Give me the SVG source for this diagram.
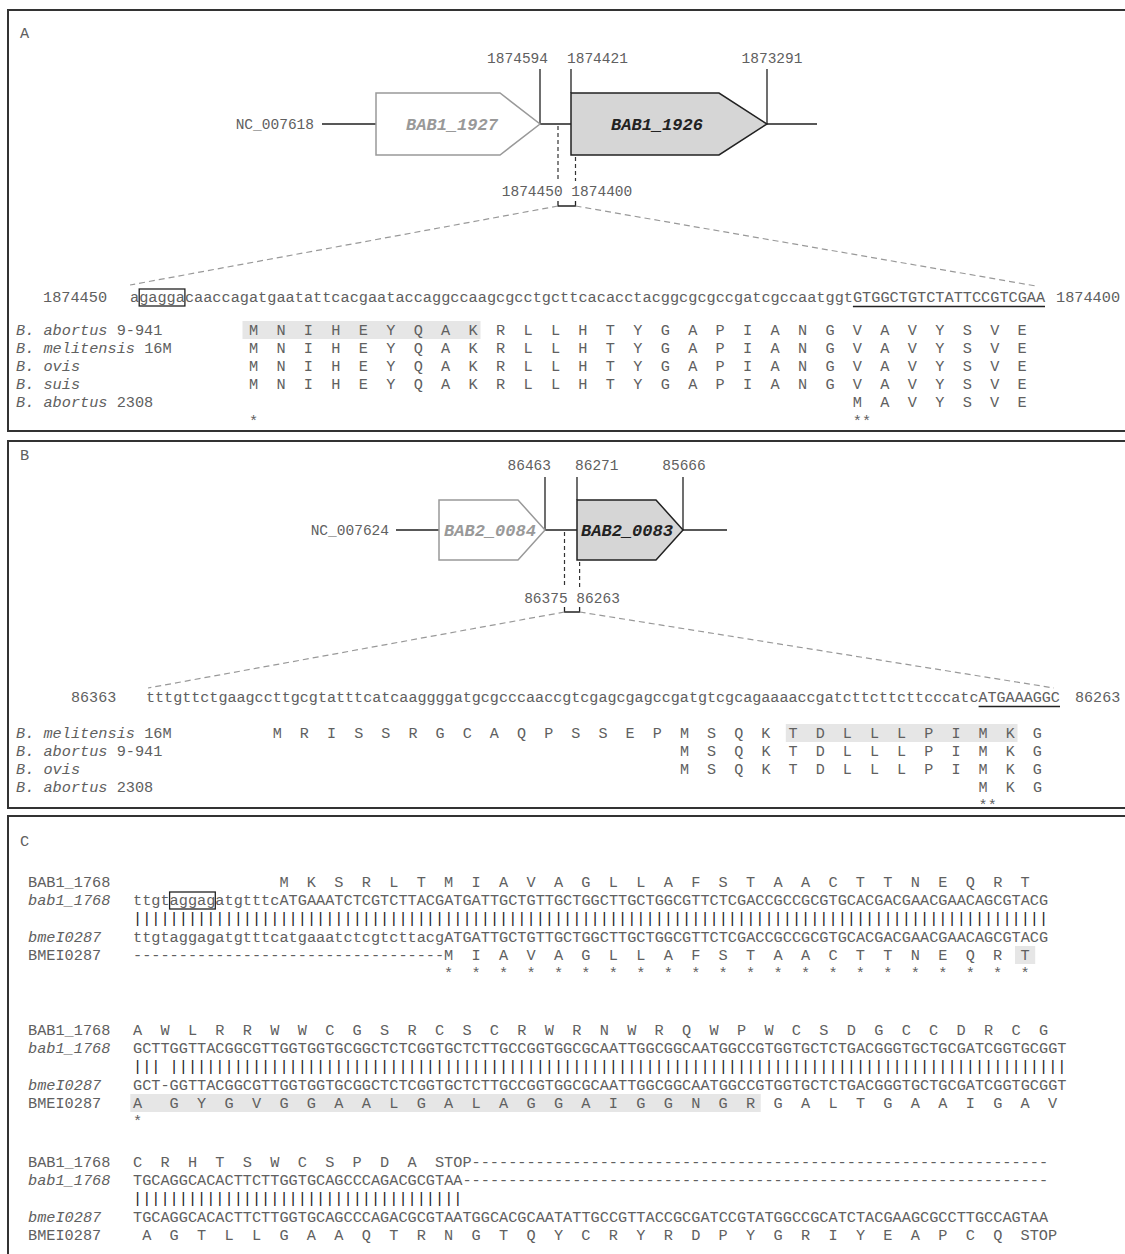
<svg xmlns="http://www.w3.org/2000/svg" width="1125" height="1254" viewBox="0 0 1125 1254">
<style>
.t{font-family:"Liberation Mono","Courier New",monospace;font-size:15.25px;fill:#606060}
.b{font-size:15.08px}
.s{font-size:14.5px}
.aa{letter-spacing:18.3px}
.ab{letter-spacing:18.1px}
.it{font-style:italic}
.bar{fill:#222}
.g{font-family:"Liberation Mono","Courier New",monospace;font-size:17px;font-weight:bold;font-style:italic;text-anchor:middle}
.ln{stroke:#222;stroke-width:1.3;fill:none}
.dv{stroke:#333;stroke-width:1.2;stroke-dasharray:4 3;fill:none}
.fan{stroke:#999;stroke-width:1.2;stroke-dasharray:6 4;fill:none}
.panel{fill:none;stroke:#333;stroke-width:2}
.shade{fill:#e6e6e6}
</style>
<rect width="1125" height="1254" fill="#fff"/>
<g id="panels">
<rect class="panel" x="8" y="10" width="1130" height="421"/>
<rect class="panel" x="8" y="441" width="1130" height="367"/>
<rect class="panel" x="8" y="816" width="1130" height="450"/>
</g>
<g id="shading">
<rect class="shade" x="242.5" y="321" width="238" height="18"/>
<rect class="shade" x="785.8" y="724" width="231.7" height="18"/>
<rect class="shade" x="1015" y="946" width="20.2" height="18"/>
<rect class="shade" x="130.3" y="1094" width="630.4" height="18"/>
</g>
<g id="connectors">
<path class="ln" d="M322 124H376M540 124H571M767 124H817"/>
<path class="ln" d="M540 69V124M571 69V93M767 69V124"/>
<path class="dv" d="M558 126V181M575.5 157V181"/>
<path class="ln" d="M558 201V206H575.5V201"/>
<path class="fan" d="M558 206L130 285M575.5 206L1036 286"/>
<path class="ln" d="M396 530H439M545 530H577M683 530H727"/>
<path class="ln" d="M545 477V530M577 477V500M683 477V530"/>
<path class="dv" d="M564.5 532V588M579.6 562V588"/>
<path class="ln" d="M564.5 607V612H579.6V607"/>
<path class="fan" d="M564.5 612L148 688M579.6 612L1054 688"/>
<path class="ln" d="M852.9 306.5H1045M978.6 706.5H1060"/>
<rect class="ln" x="139.2" y="289" width="45.7" height="17" stroke="#444"/>
<rect class="ln" x="169.6" y="892" width="45.7" height="17" stroke="#444"/>
</g>
<g id="node-BAB1_1927">
<path d="M376 93H500L540 124L500 155H376Z" fill="#fff" stroke="#999" stroke-width="1.5"/>
<text class="g" x="452" y="130" fill="#999">BAB1_1927</text>
</g>
<g id="node-BAB1_1926">
<path d="M571 93H719L767 124L719 155H571Z" fill="#d6d6d6" stroke="#222" stroke-width="1.5"/>
<text class="g" x="657" y="130" fill="#222">BAB1_1926</text>
</g>
<g id="node-BAB2_0084">
<path d="M439 500H518L545 530L518 560H439Z" fill="#fff" stroke="#999" stroke-width="1.5"/>
<text class="g" x="490" y="536" fill="#999">BAB2_0084</text>
</g>
<g id="node-BAB2_0083">
<path d="M577 500H656L683 530L656 560H577Z" fill="#d6d6d6" stroke="#222" stroke-width="1.5"/>
<text class="g" x="627" y="536" fill="#222">BAB2_0083</text>
</g>
<g id="panel-A-text">
<text class="t" x="20" y="38">A</text>
<text class="t s" x="548" y="63" text-anchor="end">1874594</text>
<text class="t s" x="567" y="63">1874421</text>
<text class="t s" x="772" y="63" text-anchor="middle">1873291</text>
<text class="t s" x="314" y="129" text-anchor="end">NC_007618</text>
<text class="t s" x="567" y="196" text-anchor="middle">1874450 1874400</text>
<text class="t" x="43" y="302">1874450</text>
<text class="t" x="130" y="302">agaggacaaccagatgaatattcacgaataccaggccaagcgcctgcttcacacctacggcgcgccgatcgccaatggtGTGGCTGTCTATTCCGTCGAA</text>
<text class="t" x="1056" y="302">1874400</text>
<text class="t" x="16" y="335"><tspan class="it">B. abortus</tspan> 9-941</text>
<text class="t" x="16" y="353"><tspan class="it">B. melitensis</tspan> 16M</text>
<text class="t" x="16" y="371"><tspan class="it">B. ovis</tspan></text>
<text class="t" x="16" y="389"><tspan class="it">B. suis</tspan></text>
<text class="t" x="16" y="407"><tspan class="it">B. abortus</tspan> 2308</text>
<text class="t aa" x="248.95" y="335">MNIHEYQAKRLLHTYGAPIANGVAVYSVE</text>
<text class="t aa" x="248.95" y="353">MNIHEYQAKRLLHTYGAPIANGVAVYSVE</text>
<text class="t aa" x="248.95" y="371">MNIHEYQAKRLLHTYGAPIANGVAVYSVE</text>
<text class="t aa" x="248.95" y="389">MNIHEYQAKRLLHTYGAPIANGVAVYSVE</text>
<text class="t aa" x="852.85" y="407">MAVYSVE</text>
<text class="t" x="248.95" y="426">*</text>
<text class="t" x="852.85" y="426">**</text>
</g>
<g id="panel-B-text">
<text class="t" x="20" y="460">B</text>
<text class="t s" x="551" y="470" text-anchor="end">86463</text>
<text class="t s" x="575" y="470">86271</text>
<text class="t s" x="684" y="470" text-anchor="middle">85666</text>
<text class="t s" x="389" y="535" text-anchor="end">NC_007624</text>
<text class="t s" x="572" y="603" text-anchor="middle">86375 86263</text>
<text class="t b" x="71" y="702">86363</text>
<text class="t b" x="146" y="702">tttgttctgaagccttgcgtatttcatcaaggggatgcgcccaaccgtcgagcgagccgatgtcgcagaaaaccgatcttcttcttcccatcATGAAAGGC</text>
<text class="t b" x="1075" y="702">86263</text>
<text class="t" x="16" y="738"><tspan class="it">B. melitensis</tspan> 16M</text>
<text class="t" x="16" y="756"><tspan class="it">B. abortus</tspan> 9-941</text>
<text class="t" x="16" y="774"><tspan class="it">B. ovis</tspan></text>
<text class="t" x="16" y="792"><tspan class="it">B. abortus</tspan> 2308</text>
<text class="t b ab" x="272.7" y="738">MRISSRGCAQPSSEPMSQKTDLLLPIMKG</text>
<text class="t b ab" x="679.95" y="756">MSQKTDLLLPIMKG</text>
<text class="t b ab" x="679.95" y="774">MSQKTDLLLPIMKG</text>
<text class="t b ab" x="978.6" y="792">MKG</text>
<text class="t b" x="978.6" y="810">**</text>
</g>
<g id="panel-C-text">
<text class="t" x="20" y="846">C</text>
<text class="t" x="28" y="887">BAB1_1768</text>
<text class="t aa" x="279.4" y="887">MKSRLTMIAVAGLLAFSTAACTTNEQRT</text>
<text class="t it" x="28" y="905">bab1_1768</text>
<text class="t" x="133" y="905">ttgtaggagatgtttcATGAAATCTCGTCTTACGATGATTGCTGTTGCTGGCTTGCTGGCGTTCTCGACCGCCGCGTGCACGACGAACGAACAGCGTACG</text>
<text class="t bar" x="133" y="923">||||||||||||||||||||||||||||||||||||||||||||||||||||||||||||||||||||||||||||||||||||||||||||||||||||</text>
<text class="t it" x="28" y="942">bmeI0287</text>
<text class="t" x="133" y="942">ttgtaggagatgtttcatgaaatctcgtcttacgATGATTGCTGTTGCTGGCTTGCTGGCGTTCTCGACCGCCGCGTGCACGACGAACGAACAGCGTACG</text>
<text class="t" x="28" y="960">BMEI0287</text>
<text class="t" x="133" y="960">----------------------------------</text>
<text class="t aa" x="444.1" y="960">MIAVAGLLAFSTAACTTNEQRT</text>
<text class="t aa" x="444.1" y="978">**********************</text>

<text class="t" x="28" y="1035">BAB1_1768</text>
<text class="t aa" x="133" y="1035">AWLRRWWCGSRCSCRWRNWRQWPWCSDGCCDRCG</text>
<text class="t it" x="28" y="1053">bab1_1768</text>
<text class="t" x="133" y="1053">GCTTGGTTACGGCGTTGGTGGTGCGGCTCTCGGTGCTCTTGCCGGTGGCGCAATTGGCGGCAATGGCCGTGGTGCTCTGACGGGTGCTGCGATCGGTGCGGT</text>
<text class="t bar" x="133" y="1071">|||</text>
<text class="t bar" x="169.6" y="1071">||||||||||||||||||||||||||||||||||||||||||||||||||||||||||||||||||||||||||||||||||||||||||||||||||</text>
<text class="t it" x="28" y="1090">bmeI0287</text>
<text class="t" x="133" y="1090">GCT-GGTTACGGCGTTGGTGGTGCGGCTCTCGGTGCTCTTGCCGGTGGCGCAATTGGCGGCAATGGCCGTGGTGCTCTGACGGGTGCTGCGATCGGTGCGGT</text>
<text class="t" x="28" y="1108">BMEI0287</text>
<text class="t" x="133" y="1108">A</text>
<text class="t aa" x="169.6" y="1108">GYGVGGAALGALAGGAIGGNGRGALTGAAIGAV</text>
<text class="t" x="133" y="1126">*</text>

<text class="t" x="28" y="1167">BAB1_1768</text>
<text class="t aa" x="133" y="1167">CRHTSWCSPDA</text>
<text class="t" x="434.95" y="1167">STOP---------------------------------------------------------------</text>
<text class="t it" x="28" y="1185">bab1_1768</text>
<text class="t" x="133" y="1185">TGCAGGCACACTTCTTGGTGCAGCCCAGACGCGTAA----------------------------------------------------------------</text>
<text class="t bar" x="133" y="1203">||||||||||||||||||||||||||||||||||||</text>
<text class="t it" x="28" y="1222">bmeI0287</text>
<text class="t" x="133" y="1222">TGCAGGCACACTTCTTGGTGCAGCCCAGACGCGTAATGGCACGCAATATTGCCGTTACCGCGATCCGTATGGCCGCATCTACGAAGCGCCTTGCCAGTAA</text>
<text class="t" x="28" y="1240">BMEI0287</text>
<text class="t aa" x="142.15" y="1240">AGTLLGAAQTRNGTQYCRYRDPYGRIYEAPCQ</text>
<text class="t" x="1020.55" y="1240">STOP</text>
</g>
</svg>
